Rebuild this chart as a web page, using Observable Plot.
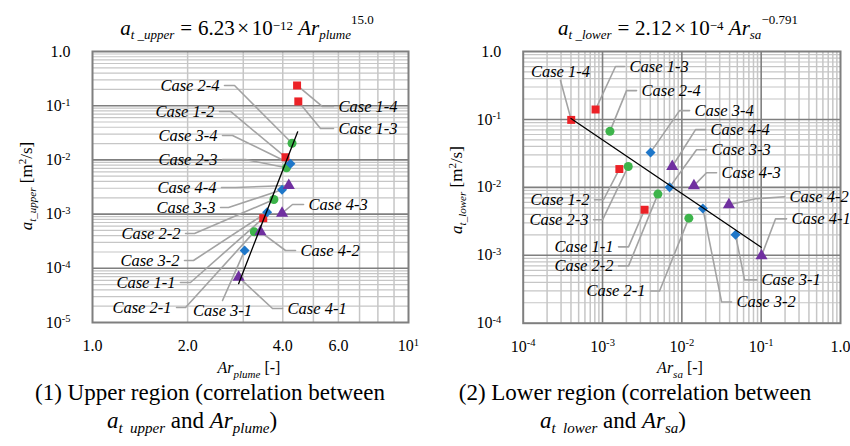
<!DOCTYPE html>
<html><head><meta charset="utf-8">
<script src="https://cdn.jsdelivr.net/npm/d3@7"></script>
<script src="https://cdn.jsdelivr.net/npm/@observablehq/plot@0.6"></script>
<style>
body{margin:0;background:#fff;}
#wrap{position:relative;width:850px;height:446px;overflow:hidden;font-family:"Liberation Serif","DejaVu Serif",serif;color:#000;background:#fff;}
.t{position:absolute;white-space:nowrap;text-align:center;}
.sb{font-size:13px;position:relative;top:4px;}
.sp1{font-size:13px;position:relative;top:-5px;}
.sp2{font-size:13px;position:relative;top:-11px;}
.op{margin:0 0.28em;}
.op2{margin:0 0.12em;}
.ysb{font-size:11px;position:relative;top:4px;}
.ysp{font-size:11px;position:relative;top:-6px;}
.xsb{font-size:11px;position:relative;top:5px;}
.csb{font-size:15px;position:relative;top:5px;}
svg{position:absolute;top:0;overflow:visible;}
svg text{font-family:"Liberation Serif","DejaVu Serif",serif;}
</style></head>
<body><div id="wrap">
<div class="t" style="left:47px;top:18px;width:400px;font-size:21px;line-height:21px"><i>a</i><span class="sb"><i>t _upper</i></span><span class="op">=</span>6.23<span class="op2">×</span>10<span class="sp1">−12</span> <i>Ar</i><span class="sb"><i>plume</i></span><span class="sp2">15.0</span></div>
<div class="t" style="left:478px;top:18px;width:400px;font-size:21px;line-height:21px"><i>a</i><span class="sb"><i>t _lower</i></span><span class="op">=</span>2.12<span class="op2">×</span>10<span class="sp1">−4</span> <i>Ar</i><span class="sb"><i>sa</i></span><span class="sp2">−0.791</span></div>
<div class="t" style="left:27px;top:186px;font-size:17px;line-height:17px;transform:translate(-50%,-50%) rotate(-90deg);"><i>a</i><span class="ysb"><i>t_upper</i></span> [m<span class="ysp">2</span>/s]</div>
<div class="t" style="left:457px;top:190px;font-size:17px;line-height:17px;transform:translate(-50%,-50%) rotate(-90deg);"><i>a</i><span class="ysb"><i>t_lower</i></span> [m<span class="ysp">2</span>/s]</div>
<div class="t" style="left:-1px;top:360px;width:500px;font-size:16px;line-height:16px"><i>Ar</i><span class="xsb"><i>plume</i></span> [-]</div>
<div class="t" style="left:430px;top:360px;width:500px;font-size:16px;line-height:16px"><i>Ar</i><span class="xsb"><i>sa</i></span> [-]</div>
<div class="t" style="left:-40px;top:381px;width:500px;font-size:23px;line-height:23px">(1) Upper region (correlation between</div>
<div class="t" style="left:-58px;top:409px;width:500px;font-size:23px;line-height:23px"><i>a</i><span class="csb"><i>t&nbsp;&nbsp;upper</i></span> and <i>Ar</i><span class="csb"><i>plume</i></span>)</div>
<div class="t" style="left:385px;top:381px;width:500px;font-size:23px;line-height:23px">(2) Lower region (correlation between</div>
<div class="t" style="left:363px;top:409px;width:500px;font-size:23px;line-height:23px"><i>a</i><span class="csb"><i>t&nbsp;&nbsp;lower</i></span> and <i>Ar</i><span class="csb"><i>sa</i></span>)</div>
</div>
<script>
// ---------- DATA ----------
const caseNames = ["Case 1-1","Case 1-2","Case 1-3","Case 1-4","Case 2-1","Case 2-2","Case 2-3","Case 2-4",
                   "Case 3-1","Case 3-2","Case 3-3","Case 3-4","Case 4-1","Case 4-2","Case 4-3","Case 4-4"];
const caseGroup = ["1","1","1","1","2","2","2","2","3","3","3","3","4","4","4","4"];

// (1) Upper region
const arPlume = [3.47, 4.08, 4.48, 4.44,  3.25, 3.75, 4.11, 4.28,  3.03, 3.57, 3.98, 4.23,  2.90, 3.40, 3.98, 4.18];
const atUpper = [8.4e-4, 0.0112, 0.12, 0.236,  4.7e-4, 1.86e-3, 7.14e-3, 0.0203,  2.13e-4, 1.08e-3, 2.8e-3, 8.5e-3,  6.85e-5, 4.7e-4, 1.04e-3, 3.37e-3];
const upperFitAr = [2.90, 4.46];
const upperFitA = [5.2e-5, 0.033];

// (2) Lower region
const arSa = [3.39e-3, 1.63e-3, 8.17e-4, 4.03e-4,  0.01225, 4.99e-3, 2.11e-3, 1.24e-3,  0.0475, 0.0184, 7.0e-3, 4.03e-3,  0.101, 0.0392, 0.0142, 7.57e-3];
const atLower = [4.68e-3, 0.0186, 0.14, 0.0984,  3.52e-3, 7.96e-3, 0.0203, 0.0668,  2.0e-3, 4.89e-3, 0.0100, 0.0327,  9.8e-4, 5.54e-3, 0.0106, 0.0203];
const lowerFitAr = [4.0e-4, 0.1];
const lowerFitA = [0.103, 1.31e-3];

// tick labels
const upperXTicks = [1, 2, 4, 6, 10];
const upperXTickLabels = ["1.0", "2.0", "4.0", "6.0", "10^1"];
const upperYTicks = [1, 1e-1, 1e-2, 1e-3, 1e-4, 1e-5];
const upperYTickLabels = ["1.0", "10^-1", "10^-2", "10^-3", "10^-4", "10^-5"];
const lowerXTicks = [1e-4, 1e-3, 1e-2, 1e-1, 1];
const lowerXTickLabels = ["10^-4", "10^-3", "10^-2", "10^-1", "1.0"];
const lowerYTicks = [1, 1e-1, 1e-2, 1e-3, 1e-4];
const lowerYTickLabels = ["1.0", "10^-1", "10^-2", "10^-3", "10^-4"];

// ---------- ANNOTATION LAYOUT (label anchor / elbow, in data units) ----------
const upperLabelX = [1.899, 2.523, 5.789, 5.789,  1.845, 1.970, 2.579, 2.617,  2.579, 1.955, 2.542, 2.579,  3.993, 4.390, 4.654, 2.560];
const upperLabelY = [5.47e-5, 0.0782, 0.0380, 0.0966,  1.891e-5, 4.385e-4, 0.01017, 0.2359,  2.546e-5, 1.393e-4, 1.323e-3, 0.0282,  1.813e-5, 2.130e-4, 1.503e-3, 3.097e-3];
const upperElbowX = [2.042, 2.734, 5.267, 5.344,  1.970, 2.103, 3.050, 2.815,  2.579, 2.087, 2.694, 2.774,  3.712, 4.081, 4.295, 2.835];
const upperElbowY = upperLabelY;
const upperSide = ["end","end","start","start", "end","end","end","end", "below","end","end","end", "start","start","start","end"];

const lowerLabelX = [1.592e-3, 7.93e-4, 1.894e-3, 2.953e-4,  4.030e-3, 1.592e-3, 7.70e-4, 2.684e-3,  0.0875, 0.04233, 0.02049, 0.01251,  0.2091, 0.1973, 0.02739, 0.01990];
const lowerLabelY = [1.33e-3, 6.57e-3, 0.6007, 0.3735,  2.985e-4, 6.98e-4, 3.33e-3, 0.2659,  4.34e-4, 2.055e-4, 0.03585, 0.1348,  3.44e-3, 7.27e-3, 0.01642, 0.07073];
const lowerElbowX = [2.128e-3, 1.029e-3, 1.458e-3, 2.953e-4,  5.234e-3, 2.128e-3, 1.0e-3, 2.007e-3,  0.06177, 0.03167, 0.01532, 9.355e-3,  0.1519, 0.0850, 0.02049, 0.01489];
const lowerElbowY = [1.33e-3, 6.57e-3, 0.6007, 0.3735,  2.985e-4, 6.98e-4, 3.33e-3, 0.2659,  4.34e-4, 2.055e-4, 0.03585, 0.1348,  3.44e-3, 6.79e-3, 0.01642, 0.07073];
const lowerSide = ["end","end","start","above", "end","end","end","start", "start","start","start","start", "start","start","start","start"];

// ---------- STYLE ----------
const groupColors = ["#ec2227", "#3db44b", "#1f77c9", "#7030a0"];
const groupSymbols = ["square", "circle", "diamond2", "triangle"];
const FONT = "Liberation Serif";

function isDecade(v){ const l = Math.log10(v); return Math.abs(l - Math.round(l)) < 1e-9; }

function supTicks(svg){
  svg.querySelectorAll('g[aria-label$="tick label"] text').forEach(t => {
    const s = t.textContent; const k = s.indexOf("^");
    if (k < 0) return;
    t.textContent = s.slice(0, k);
    const ts = document.createElementNS("http://www.w3.org/2000/svg", "tspan");
    ts.setAttribute("dy", "-0.5em"); ts.setAttribute("font-size", "0.66em");
    ts.textContent = s.slice(k + 1);
    t.appendChild(ts);
  });
}

function panel(o){
  const pts = caseNames.map((name, i) => ({name, g: caseGroup[i], x: o.xs[i], y: o.ys[i]}));
  const leaders = caseNames.flatMap((name, i) => [
    {name, x: o.lx[i], y: o.ly[i]}, {name, x: o.ex[i], y: o.ey[i]}, {name, x: o.xs[i], y: o.ys[i]}]);
  const labels = caseNames.map((name, i) => ({name, x: o.lx[i], y: o.ly[i], side: o.side[i]}));
  const fit = o.fitX.map((x, i) => ({x, y: o.fitY[i]}));
  const yAll = d3.scaleLog().domain(o.yDomain).ticks().filter(v => v > o.yDomain[0] && v < o.yDomain[1]);
  const xAll = d3.scaleLog().domain(o.xDomain).ticks().filter(v => v > o.xDomain[0] && v < o.xDomain[1]);
  const xLab = new Map(o.xTicks.map((t, i) => [t, o.xTickLabels[i]]));
  const yLab = new Map(o.yTicks.map((t, i) => [t, o.yTickLabels[i]]));
  const txt = {fontSize: 16.5, fontStyle: "italic", fontFamily: FONT, fill: "black"};
  const svg = Plot.plot({
    width: 425, height: 360,
    marginLeft: o.marginLeft, marginRight: o.marginRight, marginTop: 51, marginBottom: o.marginBottom,
    style: {background: "transparent", fontFamily: FONT, fontSize: "16px", color: "black", overflow: "visible"},
    x: {type: "log", domain: o.xDomain, label: null},
    y: {type: "log", domain: o.yDomain, label: null},
    symbol: {domain: ["1","2","3","4"], range: groupSymbols},
    color: {domain: ["1","2","3","4"], range: groupColors},
    marks: [
      Plot.ruleX(xAll.filter(v => !isDecade(v)), {stroke: "#c6c6c6", strokeWidth: 1.5}),
      Plot.ruleY(yAll.filter(v => !isDecade(v)), {stroke: "#c6c6c6", strokeWidth: 1.2}),
      Plot.ruleX(xAll.filter(isDecade), {stroke: "#7f7f7f", strokeWidth: 1.6}),
      Plot.ruleY(yAll.filter(isDecade), {stroke: "#7f7f7f", strokeWidth: 1.6}),
      Plot.frame({stroke: "#7f7f7f", strokeWidth: 2}),
      Plot.line(leaders, {x: "x", y: "y", z: "name", stroke: "#a3a3a3", strokeWidth: 1.6}),
      Plot.dot(pts, {x: "x", y: "y", symbol: "g", fill: "g", r: 4.5}),
      Plot.line(fit, {x: "x", y: "y", stroke: "black", strokeWidth: 1.3}),
      Plot.text(labels.filter(d => d.side === "end"), {x: "x", y: "y", text: "name", textAnchor: "end", dx: -5, ...txt}),
      Plot.text(labels.filter(d => d.side === "start"), {x: "x", y: "y", text: "name", textAnchor: "start", dx: 5, ...txt}),
      Plot.text(labels.filter(d => d.side === "below"), {x: "x", y: "y", text: "name", textAnchor: "middle", lineAnchor: "top", dy: 4, ...txt}),
      Plot.text(labels.filter(d => d.side === "above"), {x: "x", y: "y", text: "name", textAnchor: "middle", lineAnchor: "bottom", dy: -4, ...txt}),
      Plot.axisX(o.xTicks, {text: d => xLab.get(d), label: null, tickSize: 0, tickPadding: 17, fontSize: 16, fontFamily: FONT}),
      Plot.axisY(o.yTicks, {text: d => yLab.get(d), label: null, tickSize: 0, tickPadding: 22, fontSize: 16, fontFamily: FONT})
    ]
  });
  supTicks(svg);
  svg.style.left = o.left + "px";
  return svg;
}

const wrap = document.getElementById("wrap");
wrap.appendChild(panel({
  left: 0, marginLeft: 92, marginRight: 17, marginBottom: 38,
  xDomain: [1, 10], yDomain: [1e-5, 1],
  xs: arPlume, ys: atUpper, lx: upperLabelX, ly: upperLabelY, ex: upperElbowX, ey: upperElbowY, side: upperSide,
  fitX: upperFitAr, fitY: upperFitA,
  xTicks: upperXTicks, xTickLabels: upperXTickLabels, yTicks: upperYTicks, yTickLabels: upperYTickLabels
}));
wrap.appendChild(panel({
  left: 425, marginLeft: 97.7, marginRight: 10, marginBottom: 37.3,
  xDomain: [1e-4, 1], yDomain: [1e-4, 1],
  xs: arSa, ys: atLower, lx: lowerLabelX, ly: lowerLabelY, ex: lowerElbowX, ey: lowerElbowY, side: lowerSide,
  fitX: lowerFitAr, fitY: lowerFitA,
  xTicks: lowerXTicks, xTickLabels: lowerXTickLabels, yTicks: lowerYTicks, yTickLabels: lowerYTickLabels
}));
</script>
</body></html>
